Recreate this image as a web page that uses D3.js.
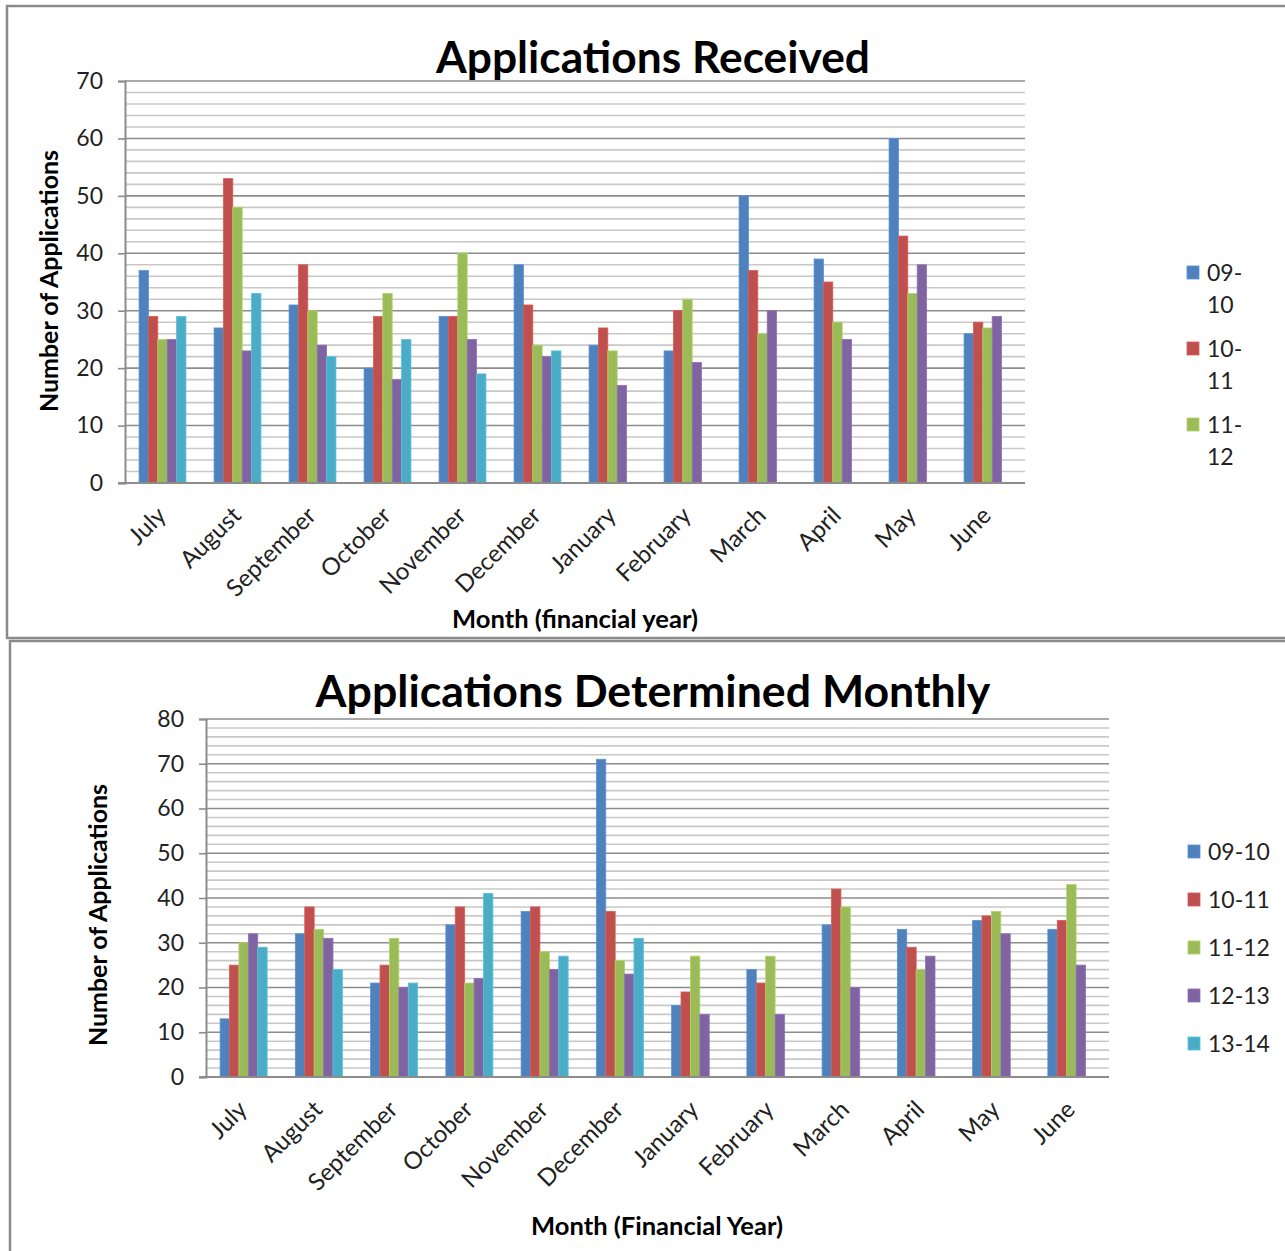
<!DOCTYPE html>
<html>
<head>
<meta charset="utf-8">
<script src="https://cdn.jsdelivr.net/npm/d3@7"></script>
<style>
  html, body { margin: 0; padding: 0; background: #fff; }
  svg { display: block; font-family: Lato, "Open Sans", sans-serif; }
</style>
</head>
<body>
<svg id="page" width="1285" height="1251"></svg>
<script>
// Months of the financial year
const months = ["July", "August", "September", "October", "November", "December",
                "January", "February", "March", "April", "May", "June"];
const seriesNames = ["09-10", "10-11", "11-12", "12-13", "13-14"];
const seriesColors = ["#4F81BD", "#C0504D", "#9BBB59", "#8064A2", "#4BACC6"];

// Applications received per month, one array per financial year
const received0910 = [37, 27, 31, 20, 29, 38, 24, 23, 50, 39, 60, 26];
const received1011 = [29, 53, 38, 29, 29, 31, 27, 30, 37, 35, 43, 28];
const received1112 = [25, 48, 30, 33, 40, 24, 23, 32, 26, 28, 33, 27];
const received1213 = [25, 23, 24, 18, 25, 22, 17, 21, 30, 25, 38, 29];
const received1314 = [29, 33, 22, 25, 19, 23, null, null, null, null, null, null];

// Applications determined per month, one array per financial year
const determined0910 = [13, 32, 21, 34, 37, 71, 16, 24, 34, 33, 35, 33];
const determined1011 = [25, 38, 25, 38, 38, 37, 19, 21, 42, 29, 36, 35];
const determined1112 = [30, 33, 31, 21, 28, 26, 27, 27, 38, 24, 37, 43];
const determined1213 = [32, 31, 20, 22, 24, 23, 14, 14, 20, 27, 32, 25];
const determined1314 = [29, 24, 21, 41, 27, 31, null, null, null, null, null, null];

// Axis tick labels
const receivedTicks = [0, 10, 20, 30, 40, 50, 60, 70];
const determinedTicks = [0, 10, 20, 30, 40, 50, 60, 70, 80];

const svg = d3.select("#page");

// Panel frames
svg.append("rect").attr("x", 7).attr("y", 6).attr("width", 1290).attr("height", 632)
  .attr("fill", "none").attr("stroke", "#8a8a8a").attr("stroke-width", 2.5);
svg.append("rect").attr("x", 10).attr("y", 641).attr("width", 1290).attr("height", 640)
  .attr("fill", "none").attr("stroke", "#8a8a8a").attr("stroke-width", 2.5);

function fitText(sel, width) {
  const node = sel.node();
  const w = node.getComputedTextLength();
  const fs = parseFloat(sel.attr("font-size"));
  sel.attr("font-size", (fs * width / w).toFixed(2));
}

function drawChart(cfg) {
  const g = svg.append("g");
  const y = d3.scaleLinear().domain([0, cfg.max]).range([cfg.bottom, cfg.top]);
  const x = d3.scaleBand().domain(months).range([cfg.left, cfg.right])
    .paddingInner(0.375).paddingOuter(0.1875);
  const xs = d3.scaleBand().domain(seriesNames).range([0, x.bandwidth()]);

  // minor gridlines every 2
  const minor = d3.range(0, cfg.max + 0.001, 2).filter(v => v % 10 !== 0);
  g.selectAll(".minor").data(minor).join("line")
    .attr("x1", cfg.left).attr("x2", cfg.right)
    .attr("y1", d => y(d)).attr("y2", d => y(d))
    .attr("stroke", "#c8c8c8").attr("stroke-width", 1.6);

  // major gridlines
  g.selectAll(".major").data(cfg.ticks.filter(v => v > 0)).join("line")
    .attr("x1", cfg.left).attr("x2", cfg.right)
    .attr("y1", d => y(d)).attr("y2", d => y(d))
    .attr("stroke", "#8c8c8c").attr("stroke-width", 1.6);

  // y axis with ticks
  const yAxis = d3.axisLeft(y).tickValues(cfg.ticks).tickSize(7).tickPadding(15);
  const ya = g.append("g").attr("transform", `translate(${cfg.left},0)`).call(yAxis);
  ya.select(".domain").attr("stroke", "#8c8c8c").attr("stroke-width", 2);
  ya.selectAll(".tick line").attr("stroke", "#8c8c8c").attr("stroke-width", 1.6);
  ya.selectAll(".tick text").attr("font-size", 23).attr("fill", "#222")
    .attr("font-family", "Lato, sans-serif");

  // bars
  const rows = [];
  months.forEach((m, i) => {
    cfg.series.forEach((arr, s) => {
      if (arr[i] != null) rows.push({ month: m, name: seriesNames[s], value: arr[i], color: seriesColors[s] });
    });
  });
  g.selectAll(".bar").data(rows).join("rect")
    .attr("x", d => x(d.month) + xs(d.name))
    .attr("y", d => y(d.value))
    .attr("width", xs.bandwidth())
    .attr("height", d => y(0) - y(d.value))
    .attr("fill", d => d.color)
    .attr("stroke", d => d3.color(d.color).brighter(0.35))
    .attr("stroke-width", 0.8);

  // x axis line
  g.append("line").attr("x1", cfg.left - 7).attr("x2", cfg.right)
    .attr("y1", cfg.bottom).attr("y2", cfg.bottom)
    .attr("stroke", "#8c8c8c").attr("stroke-width", 2);

  // rotated month labels
  g.selectAll(".mlabel").data(months).join("text")
    .attr("text-anchor", "end")
    .attr("font-size", 24)
    .attr("fill", "#222")
    .attr("transform", d => `translate(${x(d) + x.bandwidth() / 2 + 5},${cfg.bottom + 34}) rotate(-45)`)
    .text(d => d);

  // title
  const t = g.append("text").attr("x", cfg.titleX).attr("y", cfg.titleY)
    .attr("text-anchor", "middle").attr("font-weight", "bold").attr("font-size", 40)
    .attr("fill", "#000").text(cfg.title);
  fitText(t, cfg.titleW);

  // y axis title
  const yt = g.append("text").attr("text-anchor", "middle").attr("font-weight", "bold")
    .attr("font-size", 21).attr("fill", "#000")
    .attr("transform", `translate(${cfg.yTitleX},${cfg.yTitleY}) rotate(-90)`)
    .text("Number of Applications");
  fitText(yt, cfg.yTitleW);

  // x axis title
  const xt = g.append("text").attr("x", cfg.xTitleX).attr("y", cfg.xTitleY)
    .attr("text-anchor", "middle").attr("font-weight", "bold").attr("font-size", 21)
    .attr("fill", "#000").text(cfg.xTitle);
  fitText(xt, cfg.xTitleW);

  // legend
  const lg = g.append("g");
  cfg.legend.forEach((item, i) => {
    const ly = cfg.legendY + i * cfg.legendStep;
    lg.append("rect").attr("x", cfg.legendX).attr("y", ly - 7).attr("width", 12).attr("height", 13)
      .attr("fill", seriesColors[item.index])
      .attr("stroke", d3.color(seriesColors[item.index]).brighter(0.35)).attr("stroke-width", 0.8);
    item.lines.forEach((line, k) => {
      lg.append("text").attr("x", cfg.legendX + 20).attr("y", ly + k * 32)
        .attr("dy", "0.35em").attr("font-size", 23).attr("fill", "#222").text(line);
    });
  });
}

drawChart({
  title: "Applications Received", titleX: 653, titleY: 73, titleW: 434,
  xTitle: "Month (financial year)", xTitleX: 575, xTitleY: 628, xTitleW: 246,
  yTitleX: 58, yTitleY: 281, yTitleW: 262,
  left: 125, right: 1025, top: 81, bottom: 483, max: 70, ticks: receivedTicks,
  series: [received0910, received1011, received1112, received1213, received1314],
  legendX: 1187, legendY: 273, legendStep: 76,
  legend: [
    { index: 0, lines: ["09-", "10"] },
    { index: 1, lines: ["10-", "11"] },
    { index: 2, lines: ["11-", "12"] }
  ]
});

drawChart({
  title: "Applications Determined Monthly", titleX: 653, titleY: 707, titleW: 675,
  xTitle: "Month (Financial Year)", xTitleX: 657, xTitleY: 1235, xTitleW: 252,
  yTitleX: 107, yTitleY: 915, yTitleW: 262,
  left: 206, right: 1109, top: 719, bottom: 1077, max: 80, ticks: determinedTicks,
  series: [determined0910, determined1011, determined1112, determined1213, determined1314],
  legendX: 1188, legendY: 852, legendStep: 48,
  legend: [
    { index: 0, lines: ["09-10"] },
    { index: 1, lines: ["10-11"] },
    { index: 2, lines: ["11-12"] },
    { index: 3, lines: ["12-13"] },
    { index: 4, lines: ["13-14"] }
  ]
});
</script>
</body>
</html>
